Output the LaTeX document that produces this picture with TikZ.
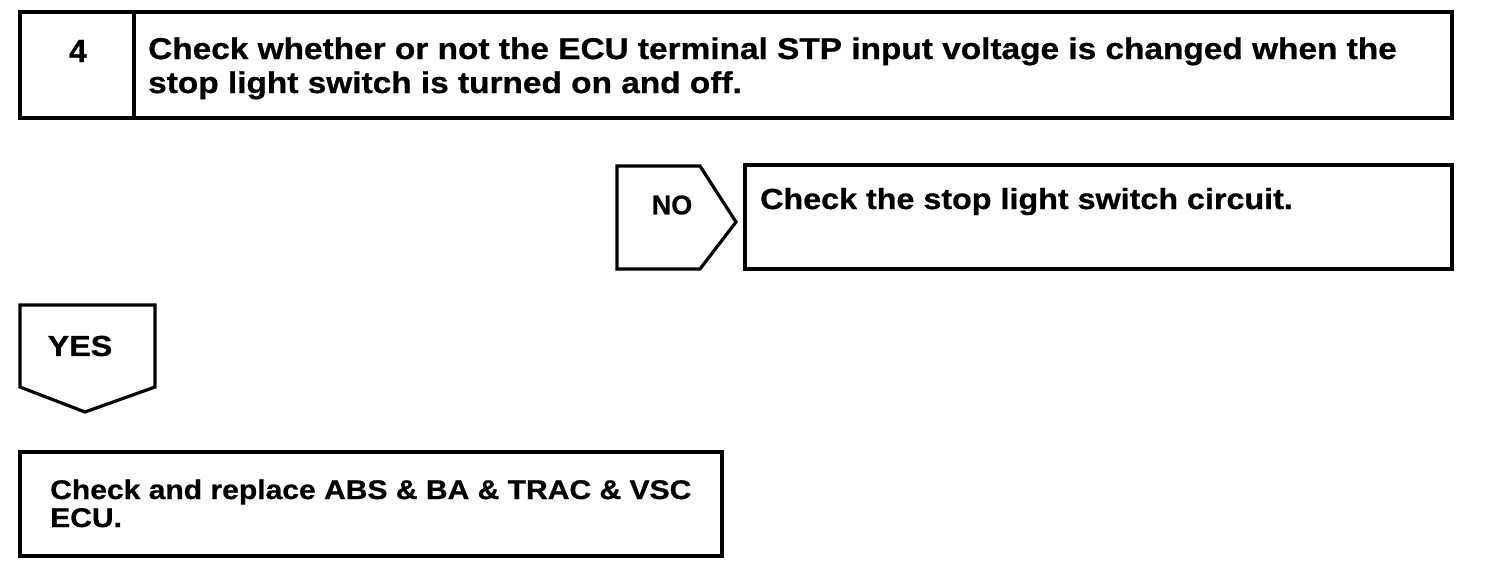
\documentclass[tikz,border=0pt]{standalone}
\usepackage{fontspec}
\setmainfont{Liberation Sans}[BoldFeatures={FakeBold=0.8}]
\newfontfamily\widesans{Liberation Sans}[FakeStretch=1.113,BoldFeatures={FakeBold=0.8}]
\begin{document}
\begin{tikzpicture}[x=1pt,y=-1pt,
  frame/.style={draw=black,line width=3.2pt,line join=miter},
  bigtxt/.style={font=\widesans\fontsize{30}{34}\selectfont\bfseries,anchor=base west,inner sep=0pt,align=left},
  midtxt/.style={font=\widesans\fontsize{29}{33}\selectfont\bfseries,anchor=base west,inner sep=0pt,align=left},
  smalltxt/.style={font=\widesans\fontsize{27}{28}\selectfont\bfseries,anchor=base west,inner sep=0pt,align=left},
  lbl/.style={font=\fontsize{27}{30}\selectfont\bfseries,inner sep=0pt},
  widelbl/.style={font=\widesans\fontsize{29}{30}\selectfont\bfseries,inner sep=0pt}]
\useasboundingbox (0,0) rectangle (1504,574);
\fill[white] (0,0) rectangle (1504,574);
% top step box
\draw[frame] (20,12) rectangle (1452,118);
\draw[frame] (134,12) -- (134,118);
\node[lbl,font=\fontsize{32}{32}\selectfont\bfseries] (num) at (78,51) {4};
\node[bigtxt] (q) at (148,93) {Check whether or not the ECU terminal STP input voltage is changed when the\\stop light switch is turned on and off.};
% NO branch
\draw[frame] (617,166) -- (700,166) -- (736,222) -- (700,269) -- (617,269) -- cycle;
\node[lbl] (no) at (672,205) {NO};
\draw[frame] (745,165) rectangle (1452,269);
\node[midtxt] (notxt) at (760,209) {Check the stop light switch circuit.};
% YES branch
\draw[frame] (20,305) -- (155,305) -- (155,387) -- (85,412) -- (20,387) -- cycle;
\node[widelbl] (yes) at (80,346) {YES};
\draw[frame] (20,452) rectangle (722,556);
\node[smalltxt] (yestxt) at (50,527) {Check and replace ABS \& BA \& TRAC \& VSC\\ECU.};
\end{tikzpicture}
\end{document}
